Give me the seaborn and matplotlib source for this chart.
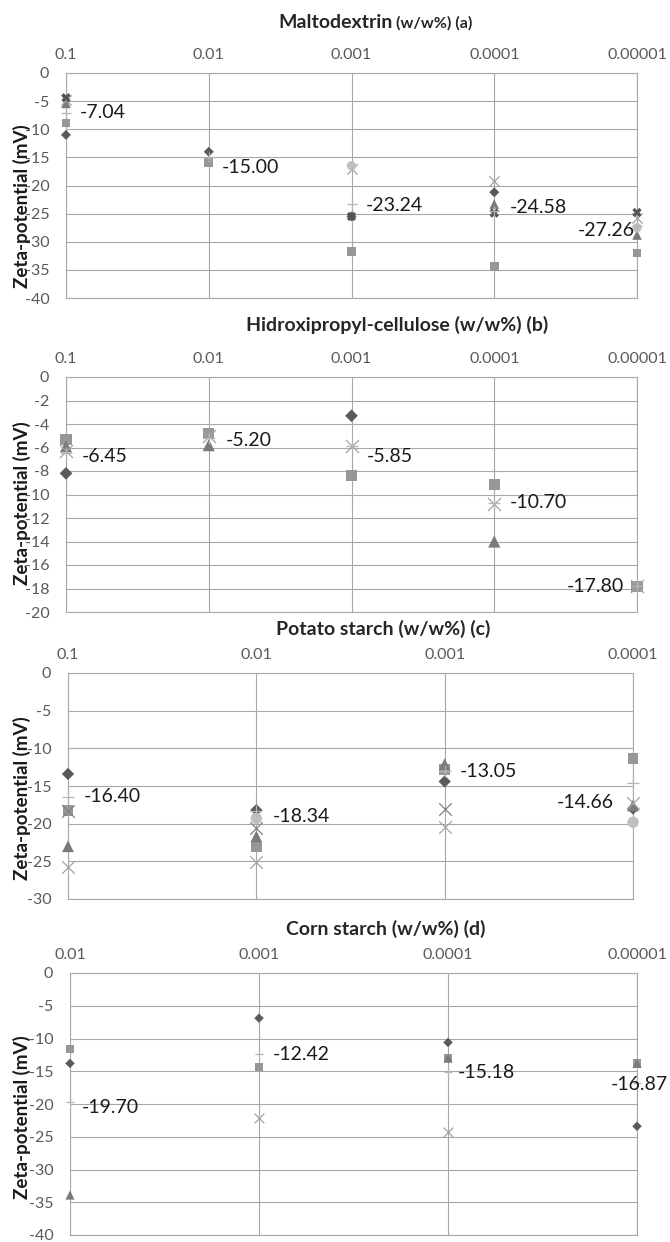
import numpy as np
import pandas as pd
import matplotlib
matplotlib.use("Agg")
import matplotlib.pyplot as plt
import seaborn as sns

nan = np.nan

# ─────────────── Panel (a): Maltodextrin ───────────────
cats_a = ["0.1", "0.01", "0.001", "0.0001", "0.00001"]
diamond_a = [-11.0, -14.0, -25.5, -21.2, nan]
square_a = [-8.9, -15.9, -31.8, -34.4, -32.0]
triangle_a = [-5.4, nan, nan, -23.3, -28.8]
cross_a = [-4.8, nan, -17.0, -19.2, -25.8]
star_a = [-4.4, nan, -25.5, -24.9, -24.8]
circle_a = [nan, nan, -16.5, nan, -27.5]
mean_a = [-7.04, -15.00, -23.24, -24.58, -27.26]

# ─────────────── Panel (b): Hidroxipropyl-cellulose ───────────────
cats_b = ["0.1", "0.01", "0.001", "0.0001", "0.00001"]
diamond_b = [-8.2, nan, -3.3, nan, nan]
square_b = [-5.3, -4.8, -8.4, -9.15, -17.8]
triangle_b = [-5.9, -5.8, nan, -14.0, nan]
cross_b = [-6.3, -5.0, -5.85, -10.8, -17.8]
mean_b = [-6.45, -5.20, -5.85, -10.70, -17.80]

# ─────────────── Panel (c): Potato starch ───────────────
cats_c = ["0.1", "0.01", "0.001", "0.0001"]
diamond_c = [-13.4, -18.2, -14.4, -18.0]
square_c = [-18.3, -23.1, -12.8, -11.3]
triangle_c = [-23.0, -21.7, -12.1, -17.6]
cross_c = [-25.7, -25.1, -20.5, -17.2]
cross2_c = [-18.3, -20.6, -18.0, nan]
circle_c = [nan, -19.3, nan, -19.8]
mean_c = [-16.40, -18.34, -13.05, -14.66]

# ─────────────── Panel (d): Corn starch ───────────────
cats_d = ["0.01", "0.001", "0.0001", "0.00001"]
diamond_d = [-13.8, -6.9, -10.6, -23.4]
square_d = [-11.6, -14.4, -13.0, -13.8]
triangle_d = [-33.9, nan, -13.0, -13.8]
cross_d = [nan, -22.2, -24.2, nan]
mean_d = [-19.70, -12.42, -15.18, -16.87]

# ─────────────── Marker styles (Excel grey scheme) ───────────────
STYLE = {
    "diamond": dict(marker="D", color="#5a5a5a", s=26, lw=0),
    "square": dict(marker="s", color="#979797", s=40, lw=0),
    "triangle": dict(marker="^", color="#7a7a7a", s=48, lw=0),
    "cross": dict(marker="x", color="#a3a3a3", s=55, lw=0.9),
    "cross2": dict(marker="x", color="#808080", s=55, lw=0.9),
    "star": dict(marker="X", color="#555555", s=45, lw=0),
    "circle": dict(marker="o", color="#c0c0c0", s=45, lw=0),
    "mean": dict(marker="+", color="#b5b5b5", s=45, lw=0.9),
}

# label nudges in points (dx, dy) — positions only, not data
OFF_A = [(10, 0), (9.5, -7.5), (10, -1), (11.5, 3), (-1.5, -3)]
OFF_B = [(11.5, -3), (12, -1.5), (11, -8), (11.5, 0), (-9, 0)]
OFF_C = [(11, 0), (11.5, -3.5), (11, 0), (-14, -14)]
OFF_D = [(8.5, -4), (10, 0), (7, 0), (2, -1)]

W, H = 670, 1242
sns.set_style("white")
plt.rcParams["font.family"] = ["Lato", "DejaVu Sans"]

fig = plt.figure(figsize=(W / 100, H / 100), dpi=100)


def px_axes(left, right, top, bottom):
    return fig.add_axes([left / W, 1 - bottom / H, (right - left) / W, (bottom - top) / H])


def draw_panel(ax, cats, series, means, ymin, ystep, offsets, scale):
    n = len(cats)
    rows = []
    for name, vals in series.items():
        for i, v in enumerate(vals):
            rows.append({"conc": i, "zeta": v, "series": name})
    df = pd.DataFrame(rows).dropna()

    for name in series:
        st = STYLE[name]
        sub = df[df["series"] == name]
        sns.scatterplot(data=sub, x="conc", y="zeta", ax=ax, marker=st["marker"],
                        color=st["color"], s=st["s"] * scale, linewidth=st["lw"],
                        edgecolor=st["color"] if st["lw"] else "none",
                        clip_on=False, zorder=3, legend=False)

    st = STYLE["mean"]
    ax.scatter(range(n), means, marker=st["marker"], color=st["color"], s=st["s"] * scale,
               linewidths=st["lw"], clip_on=False, zorder=3)

    # data labels with the mean value
    for i, (m, off) in enumerate(zip(means, offsets)):
        if off[0] > 4:
            ha = "left"
        elif off[0] < -0.5 and i == n - 1 and off[0] < 0:
            ha = "right"
        else:
            ha = "center"
        ax.annotate(f"{m:.2f}", xy=(i, m), xytext=off, textcoords="offset points",
                    ha=ha, va="center", fontsize=14, color="#1a1a1a", zorder=5,
                    annotation_clip=False)

    ax.set_xlim(0, n - 1)
    ax.set_ylim(ymin, 0)
    ax.set_xticks(range(n))
    ax.set_xticklabels(cats)
    yt = np.arange(0, ymin - 0.1, -ystep)
    ax.set_yticks(yt)
    ax.set_yticklabels([f"{int(v)}" for v in yt])
    ax.xaxis.tick_top()
    ax.tick_params(axis="x", length=0, pad=8, labelsize=11.5, labelcolor="#595959")
    ax.tick_params(axis="y", length=0, pad=12, labelsize=11.5, labelcolor="#595959")
    ax.grid(True, color="#a8a8a8", linewidth=0.8)
    ax.set_axisbelow(True)
    for sp in ax.spines.values():
        sp.set_color("#a8a8a8")
        sp.set_linewidth(0.8)
    ax.set_xlabel("")
    ax.set_ylabel("")


ax_a = px_axes(66, 637, 73, 298)
draw_panel(ax_a, cats_a,
           {"diamond": diamond_a, "square": square_a, "triangle": triangle_a,
            "cross": cross_a, "star": star_a, "circle": circle_a},
           mean_a, -40, 5, OFF_A, 1.0)

ax_b = px_axes(66, 637, 377, 612)
draw_panel(ax_b, cats_b,
           {"diamond": diamond_b, "square": square_b, "triangle": triangle_b, "cross": cross_b},
           mean_b, -20, 2, OFF_B, 1.6)

ax_c = px_axes(68, 633, 673, 899)
draw_panel(ax_c, cats_c,
           {"diamond": diamond_c, "square": square_c, "triangle": triangle_c,
            "cross": cross_c, "cross2": cross2_c, "circle": circle_c},
           mean_c, -30, 5, OFF_C, 1.5)

ax_d = px_axes(70, 637, 973, 1235)
draw_panel(ax_d, cats_d,
           {"diamond": diamond_d, "square": square_d, "triangle": triangle_d, "cross": cross_d},
           mean_d, -40, 5, OFF_D, 0.9)

# ─────────────── Titles ───────────────
t1 = fig.text(278 / W, 1 - 28 / H, "Maltodextrin", fontsize=14, fontweight="bold",
              color="#262626", ha="left", va="baseline")
fig.canvas.draw()
bb = t1.get_window_extent()
fig.text(bb.x1 / W + 4 / W, 1 - 28 / H, "(w/w%) (a)", fontsize=11.5, fontweight="bold",
         color="#262626", ha="left", va="baseline")
fig.text(397 / W, 1 - 331 / H, "Hidroxipropyl-cellulose (w/w%) (b)", fontsize=14,
         fontweight="bold", color="#262626", ha="center", va="baseline")
fig.text(383 / W, 1 - 635 / H, "Potato starch (w/w%) (c)", fontsize=14,
         fontweight="bold", color="#262626", ha="center", va="baseline")
fig.text(386 / W, 1 - 935 / H, "Corn starch (w/w%) (d)", fontsize=14,
         fontweight="bold", color="#262626", ha="center", va="baseline")

# ─────────────── Y labels ───────────────
for yc in [206, 503, 798, 1117]:
    fig.text(22 / W, 1 - yc / H, "Zeta-potential (mV)", rotation=90, fontsize=13.5,
             fontweight="bold", color="#1a1a1a", ha="center", va="center", zorder=10)

fig.savefig("out.png", dpi=100)
